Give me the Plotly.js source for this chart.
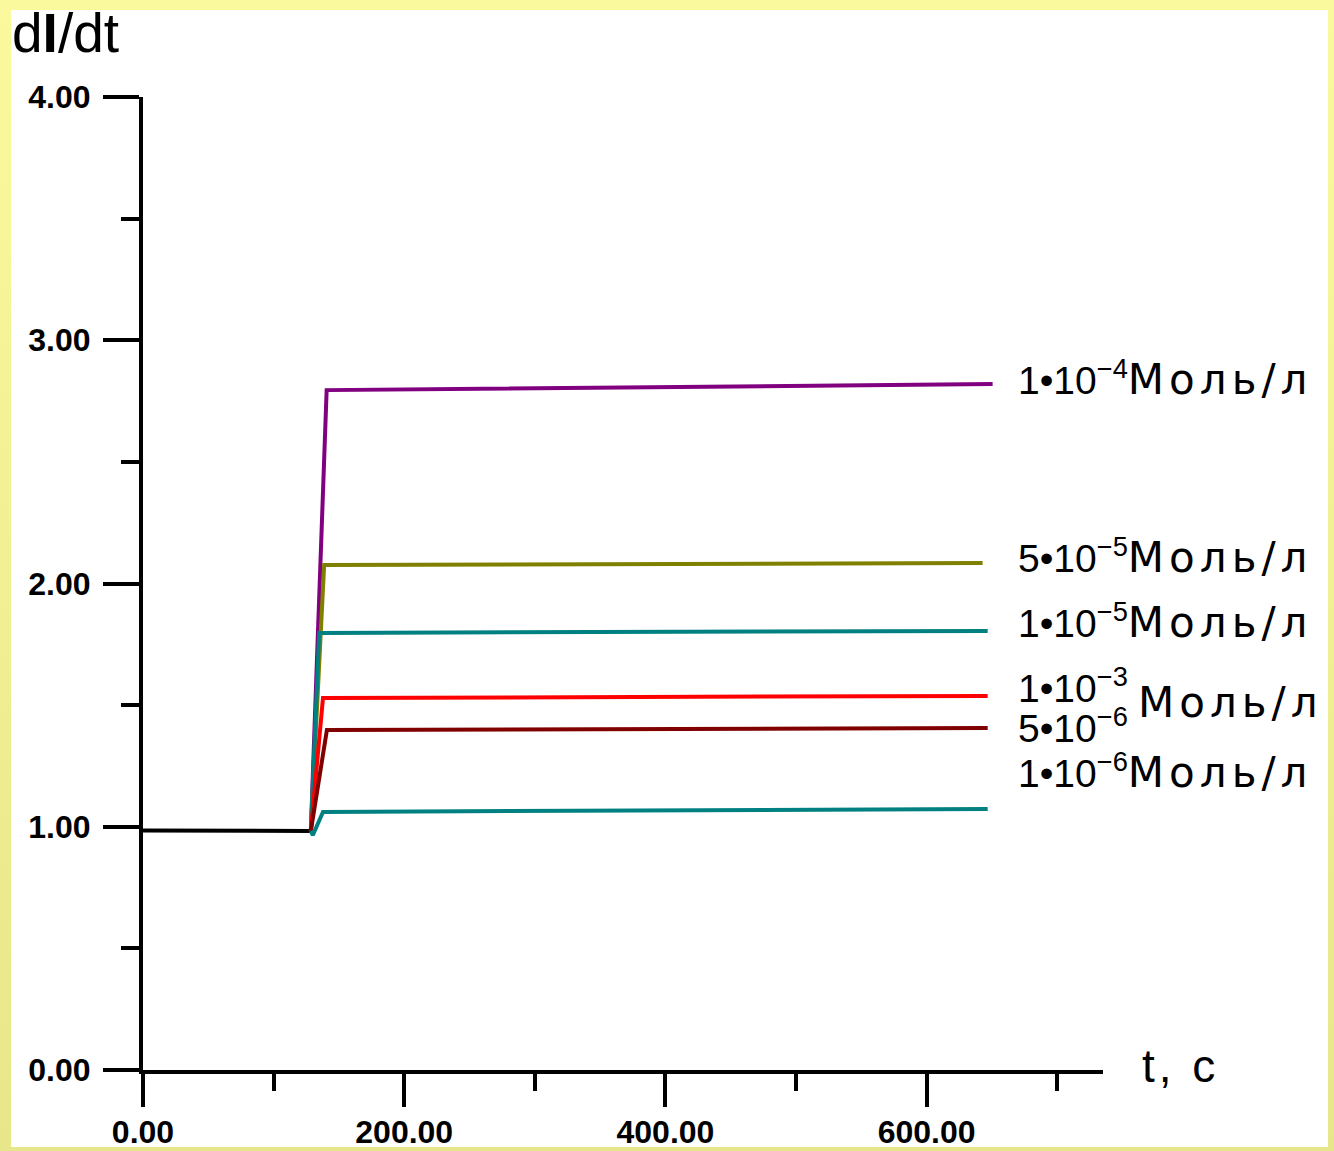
<!DOCTYPE html>
<html>
<head>
<meta charset="utf-8">
<script src="https://cdn.plot.ly/plotly-3.0.1.min.js"></script>
<style>
  html, body { margin: 0; padding: 0; background: #ffffff; overflow: hidden; }
  #wrap { position: relative; width: 1334px; height: 1151px; }
  #chart { position: absolute; left: 0; top: 0; width: 1334px; height: 1151px; }
  #frame {
    position: absolute; left: 0; top: 0; width: 1334px; height: 1151px;
    box-sizing: border-box; border-style: solid;
    border-width: 10px 6px 4px 11px;
    border-image: linear-gradient(to bottom, #fbf99d, #e7e68b) 1;
    pointer-events: none;
  }
</style>
</head>
<body>
<div id="wrap">
  <div id="chart"></div>
  <div id="frame"></div>
</div>
<script>
// ---- data ----
const tBase = [0, 128.5];
const yBase = [0.985, 0.983];

const t1e4 = [128.5, 140.6, 650.5];
const y1e4 = [0.983, 2.795, 2.820];

const t5e5 = [128.5, 138.7, 642.8];
const y5e5 = [0.983, 2.076, 2.084];

const t1e5 = [128.5, 134.9, 646.7];
const y1e5 = [0.983, 1.797, 1.805];

const t1e3 = [128.5, 137.8, 646.7];
const y1e3 = [0.983, 1.529, 1.538];

const t5e6 = [128.5, 140.8, 646.7];
const y5e6 = [0.983, 1.398, 1.406];

const t1e6 = [128.5, 130.0, 137.8, 646.7];
const y1e6 = [0.983, 0.965, 1.061, 1.073];

const seriesNames = ["1•10⁻⁴ Моль/л", "5•10⁻⁵ Моль/л", "1•10⁻⁵ Моль/л", "1•10⁻³ Моль/л", "5•10⁻⁶ Моль/л", "1•10⁻⁶ Моль/л"];
const seriesColors = ["#800080", "#808000", "#008080", "#ff0000", "#800000", "#008080"];

const xTickVals = [0, 200, 400, 600];
const yTickVals = [0, 1, 2, 3, 4];

// ---- layout helpers ----
const L = 143, T = 97, W = 960, H = 973;
const px2paperX = px => (px - L) / W;
const py2paperY = py => (T + H - py) / H;

const lw = 4;
function line(t, y, color, name) {
  return { x: t, y: y, type: 'scatter', mode: 'lines', name: name,
           line: { color: color, width: lw }, hoverinfo: 'x+y+name' };
}

const traces = [
  line(tBase, yBase, '#000000', 'base'),
  line(t1e4, y1e4, seriesColors[0], seriesNames[0]),
  line(t5e5, y5e5, seriesColors[1], seriesNames[1]),
  line(t1e5, y1e5, seriesColors[2], seriesNames[2]),
  line(t1e3, y1e3, seriesColors[3], seriesNames[3]),
  line(t5e6, y5e6, seriesColors[4], seriesNames[4]),
  line(t1e6, y1e6, seriesColors[5], seriesNames[5])
];

const tickFont = { family: 'Liberation Sans, Arial, sans-serif', size: 32, color: '#000', weight: 'bold' };
const lblFont = { family: 'Liberation Sans, Arial, sans-serif', size: 39, color: '#000' };
const mol = '<span style="font-family:DejaVu Sans;font-size:42px;letter-spacing:5px">Моль/л</span>';

const labelX = px2paperX(1016);
const ann = (text, x, y, font) => ({ text: text, x: x, y: y, xref: 'paper', yref: 'y',
  xanchor: 'left', yanchor: 'middle', showarrow: false, font: font || lblFont });

const layout = {
  width: 1334, height: 1151,
  margin: { l: L, r: 1334 - L - W, t: T, b: 1151 - T - H, pad: 0 },
  paper_bgcolor: '#ffffff', plot_bgcolor: '#ffffff',
  showlegend: false,
  xaxis: {
    range: [0, 735], tickmode: 'array', tickvals: xTickVals, tickformat: '.2f',
    ticks: 'outside', ticklen: 33, tickwidth: lw, tickcolor: '#000',
    showline: true, linewidth: lw, linecolor: '#000',
    showgrid: false, zeroline: false, tickfont: tickFont, ticklabelstandoff: -2,
    minor: { tickmode: 'linear', tick0: 0, dtick: 100, ticks: 'outside', ticklen: 17, tickwidth: lw, tickcolor: '#000', showgrid: false }
  },
  yaxis: {
    range: [0, 4], tickmode: 'array', tickvals: yTickVals, tickformat: '.2f',
    ticks: 'outside', ticklen: 36, tickwidth: lw, tickcolor: '#000',
    showline: true, linewidth: lw, linecolor: '#000',
    showgrid: false, zeroline: false, tickfont: tickFont, ticklabelstandoff: 6,
    minor: { tickmode: 'linear', tick0: 0, dtick: 0.5, ticks: 'outside', ticklen: 18, tickwidth: lw, tickcolor: '#000', showgrid: false }
  },
  annotations: [
    ann('1•10<sup>−4</sup>' + mol, labelX, 2.843),
    ann('5•10<sup>−5</sup>' + mol, labelX, 2.111),
    ann('1•10<sup>−5</sup>' + mol, labelX, 1.844),
    ann('1•10<sup>−3</sup>', labelX, 1.579),
    ann('5•10<sup>−6</sup>', labelX, 1.416),
    ann(mol, px2paperX(1136), 1.509),
    ann('1•10<sup>−6</sup>' + mol, labelX, 1.227),
    { text: 'd<b>I</b>/dt', xref: 'paper', yref: 'paper', x: px2paperX(10), y: py2paperY(0),
      xanchor: 'left', yanchor: 'top', showarrow: false,
      font: { family: 'Liberation Sans, Arial, sans-serif', size: 55, color: '#000' } },
    { text: '<span style="letter-spacing:4px">t, c</span>', xref: 'paper', yref: 'paper',
      x: px2paperX(1140), y: py2paperY(1066), xanchor: 'left', yanchor: 'middle', showarrow: false,
      font: { family: 'Liberation Sans, Arial, sans-serif', size: 46, color: '#000' } }
  ]
};

Plotly.newPlot('chart', traces, layout, { displayModeBar: false, staticPlot: true });
</script>
</body>
</html>
